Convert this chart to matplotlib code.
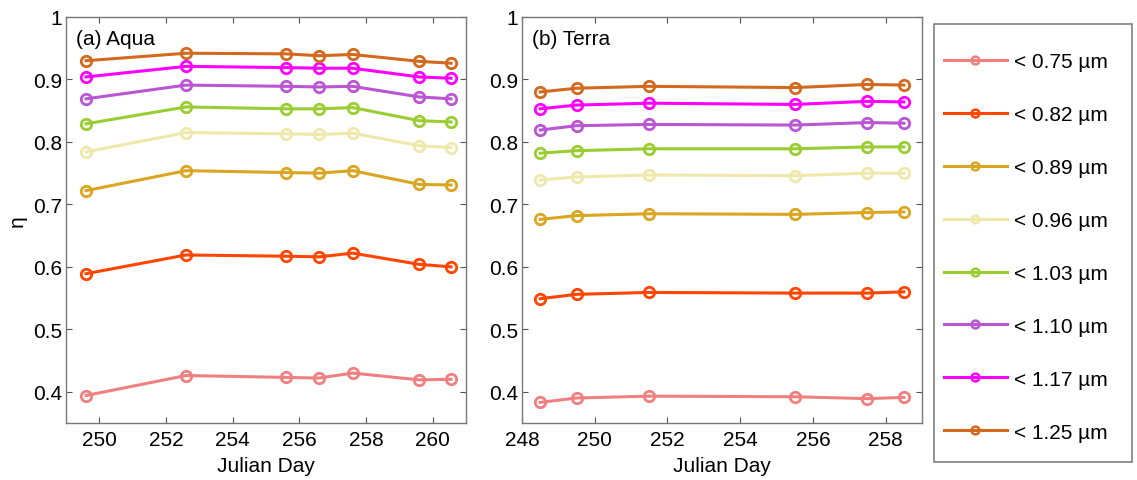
import matplotlib
matplotlib.use("Agg")
import matplotlib.pyplot as plt
import matplotlib.patches as mpatches
import matplotlib.ticker as mticker

plt.rcParams["font.family"] = ["Liberation Sans", "DejaVu Sans"]

# ── Data ─────────────────────────────────────────────────────────────────────
labels = ["< 0.75 \u00b5m", "< 0.82 \u00b5m", "< 0.89 \u00b5m", "< 0.96 \u00b5m",
          "< 1.03 \u00b5m", "< 1.10 \u00b5m", "< 1.17 \u00b5m", "< 1.25 \u00b5m"]
colors = ["#F08080", "#FF4500", "#DAA520", "#EEE8AA",
          "#9ACD32", "#BA55D3", "#FF00FF", "#D2691E"]

aqua_days = [249.6, 252.6, 255.6, 256.6, 257.6, 259.6, 260.55]
aqua_075 = [0.394, 0.426, 0.423, 0.422, 0.430, 0.419, 0.420]
aqua_082 = [0.589, 0.619, 0.617, 0.616, 0.622, 0.604, 0.600]
aqua_089 = [0.722, 0.754, 0.751, 0.750, 0.754, 0.732, 0.731]
aqua_096 = [0.784, 0.815, 0.813, 0.812, 0.814, 0.794, 0.791]
aqua_103 = [0.829, 0.856, 0.853, 0.853, 0.855, 0.834, 0.832]
aqua_110 = [0.869, 0.891, 0.889, 0.888, 0.889, 0.872, 0.869]
aqua_117 = [0.904, 0.921, 0.919, 0.918, 0.918, 0.904, 0.902]
aqua_125 = [0.930, 0.942, 0.941, 0.938, 0.940, 0.929, 0.926]

terra_days = [248.5, 249.5, 251.5, 255.5, 257.5, 258.5]
terra_075 = [0.383, 0.390, 0.393, 0.392, 0.389, 0.391]
terra_082 = [0.549, 0.556, 0.559, 0.558, 0.558, 0.560]
terra_089 = [0.676, 0.682, 0.685, 0.684, 0.687, 0.688]
terra_096 = [0.739, 0.744, 0.747, 0.746, 0.750, 0.750]
terra_103 = [0.782, 0.786, 0.789, 0.789, 0.792, 0.792]
terra_110 = [0.819, 0.826, 0.828, 0.827, 0.831, 0.830]
terra_117 = [0.853, 0.859, 0.862, 0.860, 0.865, 0.864]
terra_125 = [0.880, 0.886, 0.889, 0.887, 0.892, 0.891]

aqua = [aqua_075, aqua_082, aqua_089, aqua_096, aqua_103, aqua_110, aqua_117, aqua_125]
terra = [terra_075, terra_082, terra_089, terra_096, terra_103, terra_110, terra_117, terra_125]

FS = 15
W, H = 1137, 481

fig = plt.figure(figsize=(W / 100, H / 100), dpi=100)
ax1 = fig.add_axes([66 / W, 57 / H, 400 / W, 406 / H])
ax2 = fig.add_axes([522 / W, 57 / H, 400 / W, 406 / H])


def style(ax, xlim, xticks, title):
    ax.set_xlim(*xlim)
    ax.set_ylim(0.35, 1.0)
    ax.set_xticks(xticks)
    ax.set_yticks([0.4, 0.5, 0.6, 0.7, 0.8, 0.9, 1.0])
    ax.yaxis.set_major_formatter(mticker.FuncFormatter(lambda v, p: f"{v:g}"))
    ax.tick_params(direction="in", top=True, right=True, length=4,
                   labelsize=FS, color="#555555")
    ax.tick_params(axis="x", pad=5)
    ax.tick_params(axis="y", pad=3)
    for s in ax.spines.values():
        s.set_color("#777777")
        s.set_linewidth(1.0)
    ax.set_xlabel("Julian Day", fontsize=FS, labelpad=5)
    ax.text(0.025, 0.97, title, transform=ax.transAxes, fontsize=FS,
            va="top", ha="left")


for series, c, lab in zip(aqua, colors, labels):
    ax1.plot(aqua_days, series, color=c, lw=2.2, marker="o", ms=7.5,
             mfc="none", mew=2.0, label=lab)
for series, c in zip(terra, colors):
    ax2.plot(terra_days, series, color=c, lw=2.2, marker="o", ms=7.5,
             mfc="none", mew=2.0)

style(ax1, (249, 261), [250, 252, 254, 256, 258, 260], "(a) Aqua")
style(ax2, (248, 259), [248, 250, 252, 254, 256, 258], "(b) Terra")
ax1.set_ylabel("\u03b7", fontsize=FS, labelpad=4)

# legend box drawn separately, entries placed inside
fig.patches.append(mpatches.Rectangle((934 / W, 18 / H), 198 / W, 438 / H,
                                      transform=fig.transFigure, fill=False,
                                      edgecolor="#808080", lw=1.2))
handles, labs = ax1.get_legend_handles_labels()
leg = fig.legend(handles, labs, loc="upper left",
                 bbox_to_anchor=(944 / W, 1 - 53 / H), frameon=False,
                 fontsize=FS, borderpad=0, borderaxespad=0,
                 handlelength=3.0, handletextpad=0.35, labelspacing=1.63,
                 markerscale=0.75)
for h in leg.legend_handles:
    h.set_markeredgewidth(1.8)

fig.savefig("out.png", dpi=100)
